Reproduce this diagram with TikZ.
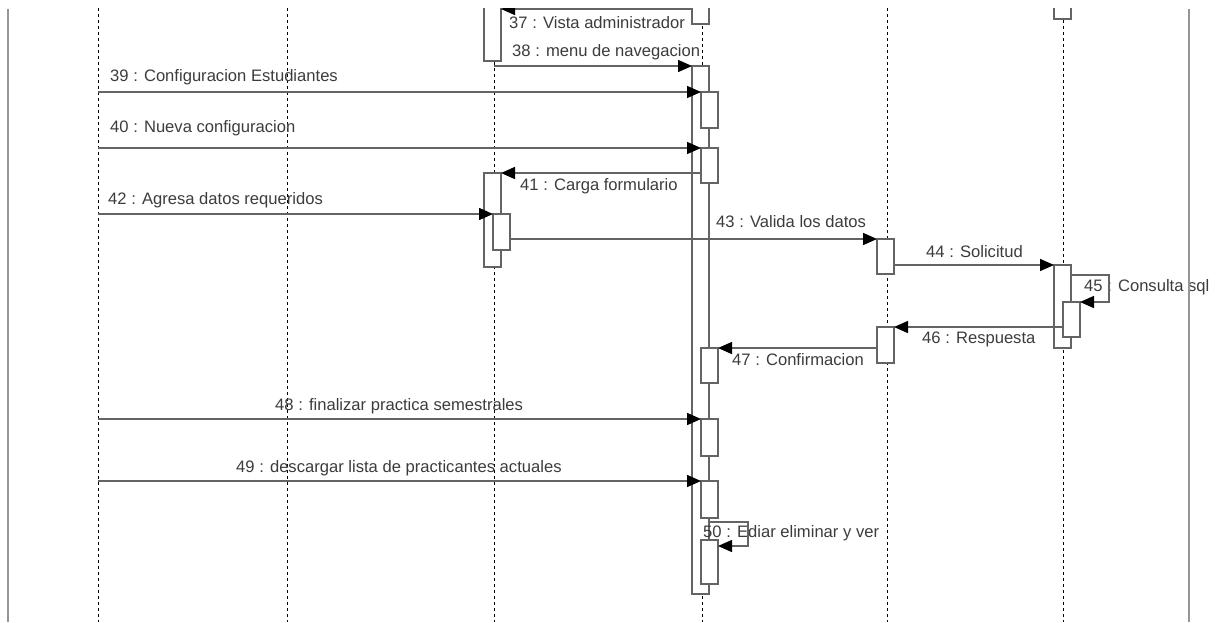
\documentclass[tikz,border=0pt]{standalone}
\usepackage{fontspec}
\setmainfont{Liberation Sans}
\usetikzlibrary{arrows.meta}
\definecolor{lg}{RGB}{100,100,100}
\definecolor{fg}{RGB}{150,150,150}
\definecolor{tg}{RGB}{60,60,60}
\begin{document}
\begin{tikzpicture}[x=1pt,y=-1pt,
 act/.style={draw=lg, fill=white, line width=1.5pt, inner sep=0pt, outer sep=0pt, minimum width=17pt, anchor=north west},
 life/.style={draw=black, line width=1pt, dash pattern=on 3pt off 3pt},
 framel/.style={draw=fg, line width=2.2pt},
 msg/.style={draw=lg, line width=1.5pt, -{Triangle[length=14pt,width=12pt,color=black]}},
 lbl/.style={text=tg, font=\fontsize{16.6}{20}\selectfont, inner sep=0pt, anchor=west},
 loopl/.style={draw=lg, line width=1.5pt}]
\useasboundingbox (0,0) rectangle (1219,622);
\clip (0,8.5) rectangle (1219,622);
% lifelines
\foreach \x in {98,287,494,702,887,1063} {\draw[life] (\x,8) -- (\x,622);}
% activation boxes
\node[act, minimum height=66pt] (L3top) at (484,-5) {};
\node[act, minimum height=29pt] (L4top) at (692,-5) {};
\node[act, minimum height=24pt] (L6top) at (1054,-5) {};
\node[act, minimum height=528pt] (L4main) at (692,66) {};
\node[act, minimum height=36pt] (n39) at (701,92) {};
\node[act, minimum height=35pt] (n40) at (701,148) {};
\node[act, minimum height=94pt] (L3b) at (484,173) {};
\node[act, minimum height=36pt] (n42) at (493,214) {};
\node[act, minimum height=35pt] (L5a) at (877,239) {};
\node[act, minimum height=83pt] (L6main) at (1054,265) {};
\node[act, minimum height=35pt] (L6in) at (1063,302) {};
\node[act, minimum height=36pt] (L5b) at (877,327) {};
\node[act, minimum height=35pt] (nA) at (701,348) {};
\node[act, minimum height=37pt] (nB) at (701,419) {};
\node[act, minimum height=37pt] (nC) at (701,481) {};
\node[act, minimum height=44pt] (nD) at (701,540) {};
% message end points
\coordinate (s37) at (692,9);
\coordinate (e37) at (501,9);
\coordinate (s38) at (494,66);
\coordinate (s39) at (98,92);
\coordinate (s40) at (98,148);
\coordinate (s41) at (701,173);
\coordinate (s42) at (98,214);
\coordinate (s43) at (510,239);
\coordinate (s44) at (894,265);
\coordinate (s45) at (1071,275);
\coordinate (c45a) at (1109,275);
\coordinate (c45b) at (1109,302);
\coordinate (s46) at (1063,327);
\coordinate (s47) at (877,348);
\coordinate (s48) at (98,419);
\coordinate (s49) at (98,481);
\coordinate (s50) at (709,522);
\coordinate (c50a) at (748,522);
\coordinate (c50b) at (748,546);
\coordinate (e50) at (718,546);
% labels
\node[lbl] (t37) at (509,23) {37 : Vista administrador};
\node[lbl] (t38) at (512,52) {38 : menu de navegacion};
\node[lbl] (t39) at (110,77) {39 : Configuracion Estudiantes};
\node[lbl] (t40) at (110,128) {40 : Nueva configuracion};
\node[lbl] (t41) at (520,186) {41 : Carga formulario};
\node[lbl] (t42) at (108,200) {42 : Agresa datos requeridos};
\node[lbl] (t43) at (716,222) {43 : Valida los datos};
\node[lbl] (t44) at (926,252) {44 : Solicitud};
\node[lbl] (t45) at (1084,287) {45 : Consulta sql};
\node[lbl] (t46) at (922,339) {46 : Respuesta};
\node[lbl] (t47) at (732,360) {47 : Confirmacion};
\node[lbl] (t48) at (275,406) {48 : finalizar practica semestrales};
\node[lbl] (t49) at (236,468) {49 : descargar lista de practicantes actuales};
\node[lbl] (t50) at (703,533) {50 : Ediar eliminar y ver};
% messages
\draw[msg] (s37) -- (e37);
\draw[msg] (s38) -- (L4main.north west);
\draw[msg] (s39) -- (n39.north west);
\draw[msg] (s40) -- (n40.north west);
\draw[msg] (s41) -- (L3b.north east);
\draw[msg] (s42) -- (n42.north west);
\draw[msg] (s43) -- (L5a.north west);
\draw[msg] (s44) -- (L6main.north west);
\draw[msg] (s45) -- (c45a) -- (c45b) -- (L6in.north east);
\draw[msg] (s46) -- (L5b.north east);
\draw[msg] (s47) -- (nA.north east);
\draw[msg] (s48) -- (nB.north west);
\draw[msg] (s49) -- (nC.north west);
\draw[msg] (s50) -- (c50a) -- (c50b) -- (e50);
% frame
\draw[framel] (8,9) -- (8,622);
\draw[framel] (1189,9) -- (1189,622);
\end{tikzpicture}
\end{document}
